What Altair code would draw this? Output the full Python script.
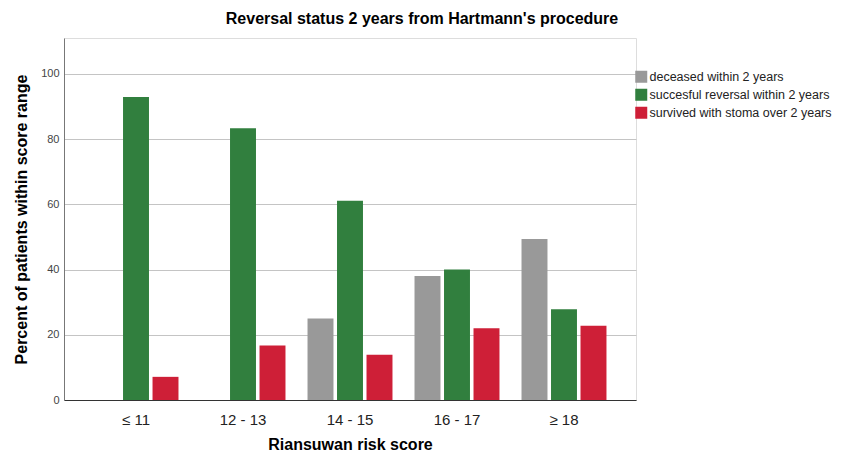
import altair as alt
import pandas as pd

categories = ["≤ 11", "12 - 13", "14 - 15", "16 - 17", "≥ 18"]
series = ["deceased within 2 years", "succesful reversal within 2 years", "survived with stoma over 2 years"]
colors = ["#999999", "#317f3e", "#ce1f37"]

deceased = [None, None, 25.0, 38.0, 49.4]
reversal = [92.9, 83.3, 61.1, 40.0, 27.8]
stoma = [7.1, 16.7, 13.9, 22.0, 22.8]

rows = []
for s, vals in zip(series, [deceased, reversal, stoma]):
    for c, v in zip(categories, vals):
        if v is not None:
            rows.append({"score": c, "status": s, "pct": v})
df = pd.DataFrame(rows)

FONT = "Liberation Sans"

chart = alt.Chart(df).mark_bar().encode(
    x=alt.X("score:N", sort=categories,
            scale=alt.Scale(domain=categories, paddingInner=0.206, paddingOuter=0.276),
            axis=alt.Axis(title="Riansuwan risk score", labelAngle=0, ticks=False, tickSize=0,
                          labelPadding=12, labelFontSize=15, labelColor="#222", labelFont=FONT,
                          titleFont=FONT, titleFontSize=16, titleFontWeight="bold", titleColor="#000",
                          titleY=49, titleBaseline="alphabetic",
                          domainColor="#333", domainWidth=1, grid=False)),
    xOffset=alt.XOffset("status:N", sort=series,
                        scale=alt.Scale(domain=series, paddingInner=0.12, paddingOuter=0)),
    y=alt.Y("pct:Q", scale=alt.Scale(domain=[0, 111], nice=False),
            axis=alt.Axis(title="Percent of patients within score range", values=[0, 20, 40, 60, 80, 100],
                          ticks=False, tickSize=0, labelPadding=5, labelFontSize=11, labelColor="#444",
                          labelFont=FONT, titleFont=FONT, titleFontSize=16, titleFontWeight="bold",
                          titleColor="#000", titleX=-38, titleY=181, titleBaseline="alphabetic",
                          titleAngle=270, titleAlign="center",
                          domainColor="#777", domainWidth=1, grid=True, gridColor="#c4c4c4", gridWidth=1)),
    color=alt.Color("status:N", sort=series,
                    scale=alt.Scale(domain=series, range=colors),
                    legend=alt.Legend(title=None, orient="none", legendX=571, legendY=32.5,
                                      symbolType="square", symbolSize=144, symbolStrokeWidth=0,
                                      labelFontSize=12.5, labelFont=FONT, labelColor="#222",
                                      labelOffset=2, rowPadding=5, padding=0, labelLimit=400)),
).properties(
    width=572,
    height=362,
    title=alt.TitleParams("Reversal status 2 years from Hartmann's procedure", font=FONT, fontSize=16,
                          fontWeight="bold", color="#000", anchor="middle", dx=72, dy=19, offset=17,
                          baseline="alphabetic"),
    autosize=alt.AutoSizeParams(type="none"),
    padding={"left": 56, "top": 30, "right": 197, "bottom": 52},
).configure_view(stroke=None).configure(background="white")

chart.save("out.html", embed_options={"renderer": "svg", "actions": False})
